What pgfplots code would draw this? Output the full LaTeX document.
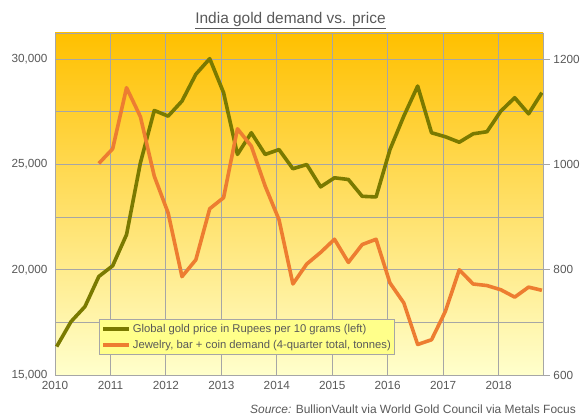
\documentclass[border=0pt]{standalone}
\usepackage{fontspec}
\setmainfont{Liberation Sans}
\usepackage{pgfplots}
\pgfplotsset{compat=1.18}
\definecolor{olivel}{HTML}{7A7A00}
\definecolor{orangel}{HTML}{ED7D31}
\definecolor{gridc}{HTML}{A6A6A6}
\definecolor{txt}{HTML}{595959}
\definecolor{legfill}{HTML}{FFFF8A}
\definecolor{bgtop}{HTML}{FFC000}
\definecolor{bgmid}{HTML}{FFE45C}
\definecolor{bgbot}{HTML}{FFFFCC}
\begin{document}
\begin{tikzpicture}[x=1bp,y=1bp]
\path[use as bounding box] (0,0) rectangle (582,418);
\begin{axis}[
  at={(55bp,43bp)}, anchor=south west, scale only axis,
  width=488bp, height=342bp,
  xmin=2010, xmax=2018.8, ymin=15000, ymax=31250,
  xtick={2010,...,2018},
  ytick={15000,20000,25000,30000},
  minor ytick={17500,22500,27500},
  scaled y ticks=false,
  grid=both,
  major grid style={gridc, line width=0.9bp},
  minor grid style={gridc, line width=0.9bp},
  axis line style={gridc, line width=0.9bp},
  tick style={draw=none},
  xtick pos=bottom, ytick pos=left,
  axis background/.style={top color=bgtop, middle color=bgmid, bottom color=bgbot},
  /pgf/number format/assume math mode=true,
  tick label style={text=txt, font=\fontsize{11.8}{13}\selectfont},
  xticklabel style={/pgf/number format/1000 sep={}, yshift=-3bp},
  yticklabel style={/pgf/number format/fixed, /pgf/number format/1000 sep={,}, xshift=-4bp},
]
\addplot[olivel, line width=3.6bp, line join=round] coordinates {
(2010.03,16350) (2010.29,17540) (2010.54,18250) (2010.79,19680)
(2011.04,20190) (2011.29,21670) (2011.54,25080) (2011.79,27570)
(2012.04,27300) (2012.29,28015) (2012.54,29290) (2012.79,30030)
(2013.04,28415) (2013.29,25480) (2013.54,26510) (2013.79,25480)
(2014.04,25710) (2014.29,24800) (2014.54,25000) (2014.79,23940)
(2015.04,24370) (2015.29,24290) (2015.54,23490) (2015.79,23460)
(2016.04,25710) (2016.29,27300) (2016.54,28730) (2016.79,26510)
(2017.04,26320) (2017.29,26060) (2017.54,26460) (2017.79,26560)
(2018.04,27540) (2018.29,28175) (2018.54,27410) (2018.78,28415)
};
\end{axis}
\begin{axis}[
  at={(55bp,43bp)}, anchor=south west, scale only axis,
  width=488bp, height=342bp,
  xmin=2010, xmax=2018.8, ymin=600, ymax=1250,
  axis x line=none, axis y line*=right,
  axis line style={gridc, line width=0.9bp, -},
  ytick={600,800,1000,1200},
  tick align=outside, major tick length=7bp,
  tick style={gridc, line width=0.9bp},
  /pgf/number format/assume math mode=true,
  yticklabel style={text=txt, font=\fontsize{11.8}{13}\selectfont, /pgf/number format/1000 sep={}, xshift=0bp},
  legend style={at={(0.09,0.058)}, anchor=south west, fill=legfill, draw=gridc,
    line width=0.9bp, text=txt, font=\fontsize{11.3}{13}\selectfont,
    inner xsep=2bp, inner ysep=3bp, row sep=2bp},
  legend cell align=left,
  legend image code/.code={\draw[#1, line width=3.6bp] (0bp,0bp) -- (26bp,0bp);},
]
\addlegendimage{olivel}
\addlegendentry{Global gold price in Rupees per 10 grams (left)}
\addplot[orangel, line width=3.6bp, line join=round] coordinates {
(2010.79,1002) (2011.04,1030) (2011.29,1146) (2011.54,1091)
(2011.79,978) (2012.04,908) (2012.29,787) (2012.54,819)
(2012.79,916) (2013.04,937) (2013.29,1068) (2013.54,1035)
(2013.79,959) (2014.04,895) (2014.29,773) (2014.54,811)
(2014.79,833) (2015.04,858) (2015.29,814) (2015.54,848)
(2015.79,858) (2016.04,775) (2016.29,737) (2016.54,658)
(2016.79,667) (2017.04,721) (2017.29,800) (2017.54,773)
(2017.79,770) (2018.04,762) (2018.29,748) (2018.54,767)
(2018.78,761)
};
\addlegendentry{Jewelry, bar + coin demand (4-quarter total, tonnes)}
\end{axis}
\node[anchor=base, text=txt, font=\fontsize{15.5}{18}\selectfont] at (290.5,394) {\underline{India gold demand vs. price}};
\node[anchor=base east, text=txt, font=\fontsize{12}{14}\selectfont, inner sep=0pt] at (576,5) {\textit{Source:} BullionVault via World Gold Council via Metals Focus};
\end{tikzpicture}
\end{document}
